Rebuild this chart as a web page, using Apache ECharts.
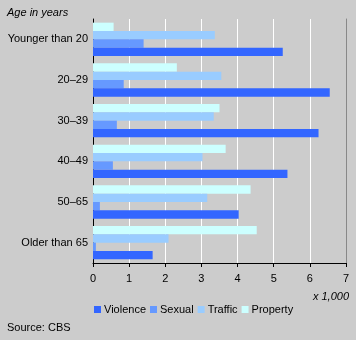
<!DOCTYPE html>
<html><head><meta charset="utf-8">
<script src="https://cdn.jsdelivr.net/npm/echarts@6/dist/echarts.min.js"></script>
<style>html,body{margin:0;padding:0;background:#cccccc;}#c{width:356px;height:340px;}</style>
</head><body><div id="c"></div>
<script>
const categories = ["Younger than 20", "20–29", "30–39", "40–49", "50–65", "Older than 65"];
const violence = [5.25, 6.55, 6.24, 5.38, 4.03, 1.65];
const sexual = [1.40, 0.85, 0.66, 0.55, 0.19, 0.08];
const traffic = [3.37, 3.55, 3.34, 3.03, 3.16, 2.09];
const property = [0.57, 2.32, 3.50, 3.67, 4.36, 4.53];
const xTicks = [0, 1, 2, 3, 4, 5, 6, 7];

const font = "Liberation Sans, Arial, sans-serif";
const chart = echarts.init(document.getElementById('c'));
const mk = (name, data, color) => ({
  name, type: 'bar', data, barGap: '0%', barCategoryGap: '18%',
  itemStyle: { color }, emphasis: { disabled: true }
});
chart.setOption({
  backgroundColor: '#cccccc',
  animation: false,
  textStyle: { fontFamily: font },
  grid: { left: 93, right: 10, top: 19, bottom: 77, containLabel: false },
  title: [
    { text: 'Age in years', left: 2, top: 2, textStyle: { fontFamily: font, fontSize: 11, fontStyle: 'italic', fontWeight: 'normal', color: '#000' } },
    { text: 'x 1,000', right: 2, top: 286, textStyle: { fontFamily: font, fontSize: 11, fontStyle: 'italic', fontWeight: 'normal', color: '#000' } },
    { text: 'Source: CBS', left: 2, top: 317, textStyle: { fontFamily: font, fontSize: 11, fontWeight: 'normal', color: '#000' } }
  ],
  legend: {
    data: ['Violence', 'Sexual', 'Traffic', 'Property'],
    left: 89, top: 299, icon: 'rect', itemWidth: 7, itemHeight: 7, itemGap: 4,
    textStyle: { fontFamily: font, fontSize: 11, color: '#000', padding: [0, 0, 0, -2] },
    selectedMode: false
  },
  xAxis: {
    type: 'value', min: 0, max: 7, interval: 1,
    axisLine: { show: true, lineStyle: { color: '#000', width: 1 } },
    axisTick: { show: true, length: 4, lineStyle: { color: '#000' } },
    axisLabel: { color: '#000', fontSize: 11, fontFamily: font, margin: 10, formatter: v => xTicks.includes(v) ? String(v) : '' },
    splitLine: { show: true, lineStyle: { color: '#ffffff', width: 1 } }
  },
  yAxis: [
    {
      type: 'category', data: categories, inverse: true,
      axisLine: { show: true, lineStyle: { color: '#000', width: 1 } },
      axisTick: { show: false },
      axisLabel: { color: '#000', fontSize: 11, fontFamily: font, margin: 5 }
    },
    {
      type: 'category', data: categories, inverse: true, position: 'right',
      axisLine: { show: true, lineStyle: { color: '#888888', width: 1 } },
      axisTick: { show: false }, axisLabel: { show: false }
    }
  ],
  series: [
    mk('Property', property, '#ccffff'),
    mk('Traffic', traffic, '#99ccff'),
    mk('Sexual', sexual, '#6699ff'),
    mk('Violence', violence, '#3366ff')
  ]
});
</script></body></html>
